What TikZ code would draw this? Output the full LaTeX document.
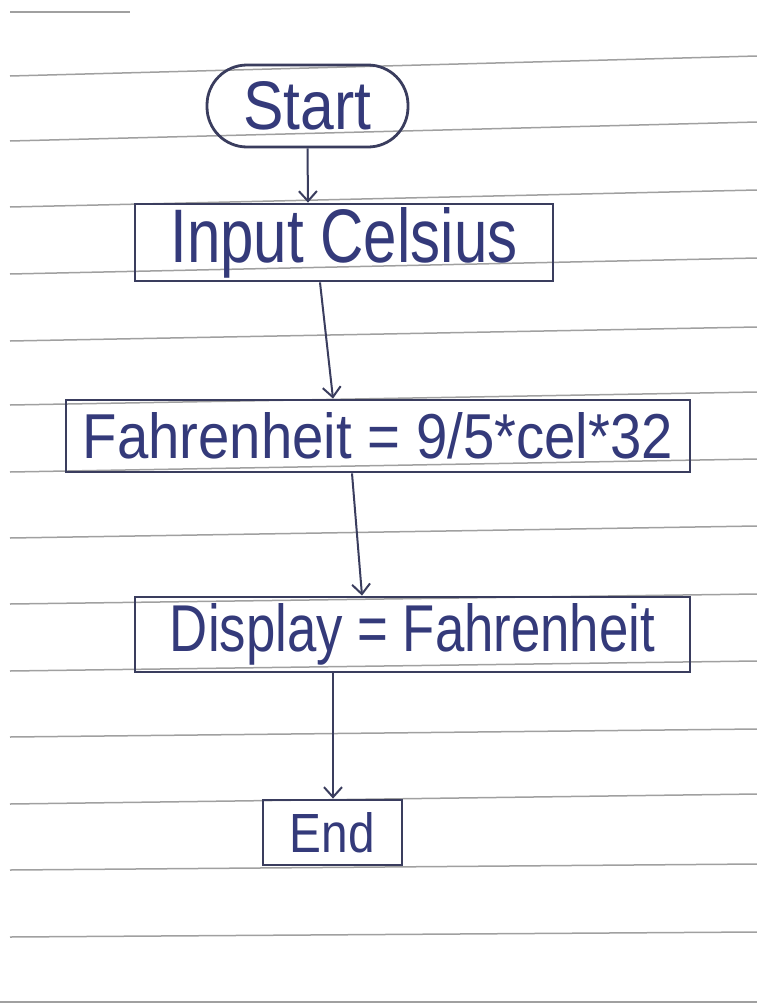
\documentclass[tikz,border=0pt]{standalone}
\usepackage{fontspec}
\setmainfont{Liberation Sans}
\usepackage{graphicx}
\usetikzlibrary{arrows.meta}
\definecolor{ink}{HTML}{343A7A}
\definecolor{boxink}{HTML}{3A3D5E}
\definecolor{rule}{HTML}{A0A0A0}
\tikzset{
  paperline/.style={draw=rule, line width=1.5pt},
  flowbox/.style={draw=boxink, line width=2.8pt, rectangle, inner sep=0pt, text=ink},
  termbox/.style={flowbox, rounded corners=40pt},
  flowarrow/.style={draw=boxink, line width=2pt, -{Straight Barb[length=10pt,width=18pt,line width=2pt]}}
}
\begin{document}
\begin{tikzpicture}[x=1pt,y=-1pt]
\fill[white] (0,0) rectangle (757,1004);
\useasboundingbox (0,0) rectangle (757,1004);
% ruled paper
\draw[paperline] (10,12) -- (130,12);
\foreach \yl/\yr in {76/56,141/122,207/190,274/258,341/327,405/392,472/459,538/526,604/594,671/661,737/729,804/794,870/864,937/932}{
  \draw[paperline] (10,\yl) -- (757,\yr);
}
\draw[paperline] (0,1002) -- (757,1002);
% nodes
\node[termbox, minimum width=201pt, minimum height=82pt] (start) at (307.5,106)
  {\resizebox{128pt}{48pt}{Start}};
\node[flowbox, minimum width=418pt, minimum height=77pt] (input) at (344,242.5)
  {\resizebox{347pt}{55pt}{Input Celsius}};
\node[flowbox, minimum width=624pt, minimum height=72pt] (fahr) at (378,436)
  {\resizebox{590pt}{46pt}{Fahrenheit = 9/5*cel*32}};
\node[flowbox, minimum width=555pt, minimum height=75pt] (disp) at (412.5,634.5)
  {\resizebox{485pt}{48pt}{Display = Fahrenheit}};
\node[flowbox, minimum width=139pt, minimum height=65pt] (end) at (332.5,832.5)
  {\resizebox{85pt}{40pt}{End}};
% connectors
\draw[flowarrow] (start.south) -- ([xshift=-36pt]input.north);
\draw[flowarrow] ([xshift=-24pt]input.south) -- ([xshift=-45pt]fahr.north);
\draw[flowarrow] ([xshift=-26pt]fahr.south) -- ([xshift=-50.5pt]disp.north);
\draw[flowarrow] ([xshift=-79.5pt]disp.south) -- ([xshift=0.5pt]end.north);
\end{tikzpicture}
\end{document}
